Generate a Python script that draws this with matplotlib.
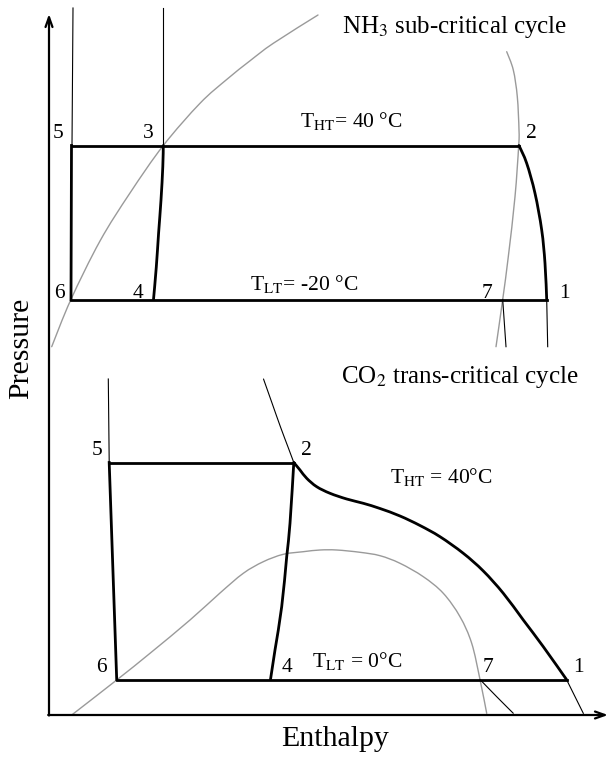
"""Schematic P-h diagram: NH3 sub-critical cycle over CO2 trans-critical cycle."""
import matplotlib
matplotlib.use('Agg')
import numpy as np
import matplotlib.pyplot as plt
from matplotlib.path import Path
from matplotlib.patches import PathPatch

plt.rcParams['font.family'] = ['Liberation Serif', 'DejaVu Serif']
plt.rcParams['mathtext.fontset'] = 'stix'

# ── Data (schematic enthalpy / pressure, in picture units, pressure grows upward) ──
# NH3 saturation dome (grey)
nh3_liq_h = [51.7, 70.7, 100, 130, 163.3, 200, 226.7, 250, 273.3, 318]
nh3_liq_p = [346.7, 300, 241, 193, 145.5, 103.3, 79.5, 60.8, 43.3, 15]
nh3_vap_h = [496, 502.7, 508.3, 515, 518.7, 519, 517.3, 513.3, 506.7]
nh3_vap_p = [346.7, 299.5, 256.7, 196.7, 145.5, 130, 96.7, 70, 51.7]

# NH3 cycle
nh3_state_h = {1: 546.7, 2: 519, 3: 163.3, 4: 153.5, 5: 71.5, 6: 71, 7: 502.7}
nh3_p_high = 145.5
nh3_p_low = 299.5
nh3_comp_h = [546.7, 545, 541.7, 535, 526.7, 519]
nh3_comp_p = [299.5, 263.3, 230, 193.3, 163.3, 145.5]
nh3_exp_h = [163.3, 162.8, 161, 158.6, 156.3, 153.5]
nh3_exp_p = [145.5, 166.7, 200, 233, 267, 299.5]
nh3_thin = [
    ([73, 72], [8, 145.5]),            # above 5
    ([163.3, 163.3], [8, 145.5]),      # above 3
    ([546.7, 547.7], [299.5, 346.7]),  # below 1
    ([502.7, 506], [299.5, 346.7]),    # below 7
]

# CO2 saturation dome (grey)
co2_dome_h = [71.7, 116.7, 150, 190, 220, 243.3, 263.3, 283.3, 303.3, 320,
              336.7, 360, 380, 400, 423.3, 443.3, 460, 471.7, 480, 486.7]
co2_dome_p = [715, 680, 653.3, 620, 593, 573.3, 561.7, 554.3, 551.7, 550,
              550, 552.3, 555.7, 563.3, 576.7, 593.3, 616.7, 643.3, 679.5, 713.3]

# CO2 cycle
co2_state_h = {1: 566.5, 2: 293.8, 4: 270.5, 5: 109.2, 6: 116.7, 7: 480}
co2_p_high = 462.5
co2_p_low = 679.5
co2_gc_h = [293.8, 300, 306.7, 316.7, 330, 346.7, 363.3, 380, 400, 420, 440,
            463.3, 483.3, 503.3, 523.3, 543.3, 566.5]
co2_gc_p = [462.5, 470, 478.3, 486.7, 493.3, 499, 503.3, 508.5, 516, 525.5,
            536.7, 553.3, 571, 593.3, 620, 646.7, 679.5]
co2_comp_h = [293.8, 290, 286.7, 281.7, 275, 270.5]
co2_comp_p = [462.5, 523.3, 556.7, 606.7, 650, 679.5]
co2_iso_h = [263.5, 272, 280.5, 288, 293.8]
co2_iso_p = [379, 403, 427, 447, 462.5]
co2_thin = [
    ([108.3, 109.2], [379, 462.5]),      # above 5
    ([566.5, 583.3], [679.5, 713.3]),    # below 1
]
co2_out7_h = [480, 496.7, 513.3]
co2_out7_p = [679.5, 696.7, 713.3]

# Labels: (text, h, p)
nh3_labels = [("5", 58.3, 138.5), ("3", 148.3, 138.5), ("2", 531.7, 138.5),
              ("6", 59.3, 297.5), ("4", 137.7, 297.5), ("7", 486.7, 297.5),
              ("1", 564, 297.5)]
co2_labels = [("5", 96.7, 455), ("2", 306.7, 455), ("6", 101.7, 672),
              ("4", 286.7, 672), ("7", 487.7, 672), ("1", 578.3, 672)]

THICK = 2.0
THIN = 0.8
GREY = '#9a9a9a'


def smooth(ax, xs, ys, **kw):
    """Draw a smooth curve through the given points (Catmull-Rom as Bezier)."""
    pts = np.column_stack([xs, ys]).astype(float)
    verts = [pts[0]]
    codes = [Path.MOVETO]
    n = len(pts)
    for i in range(n - 1):
        p0 = pts[i - 1] if i > 0 else pts[i]
        p1, p2 = pts[i], pts[i + 1]
        p3 = pts[i + 2] if i + 2 < n else pts[i + 1]
        verts += [p1 + (p2 - p0) / 6, p2 - (p3 - p1) / 6, p2]
        codes += [Path.CURVE4] * 3
    ax.add_patch(PathPatch(Path(verts, codes), fill=False,
                           capstyle='round', joinstyle='round', **kw))


fig = plt.figure(figsize=(6.09, 7.62), dpi=100)
ax = fig.add_axes([0, 0, 1, 1])
ax.set_xlim(0, 609)
ax.set_ylim(762, 0)
ax.axis('off')

# ── Axes arrows ──────────────────────────────────────────────────────────────
ax.annotate('', xy=(49, 14), xytext=(49, 715.5),
            arrowprops=dict(arrowstyle='->,head_length=0.7,head_width=0.25',
                            lw=1.6, color='black', shrinkA=0, shrinkB=0))
ax.annotate('', xy=(608, 715), xytext=(48.2, 715),
            arrowprops=dict(arrowstyle='->,head_length=0.7,head_width=0.25',
                            lw=1.6, color='black', shrinkA=0, shrinkB=0))

# ── NH3 ──────────────────────────────────────────────────────────────────────
smooth(ax, nh3_liq_h, nh3_liq_p, color=GREY, lw=1.0)
smooth(ax, nh3_vap_h, nh3_vap_p, color=GREY, lw=1.0)
for hs, ps in nh3_thin:
    ax.plot(hs, ps, color='black', lw=THIN)
ax.plot([nh3_state_h[5], nh3_state_h[2]], [nh3_p_high, nh3_p_high],
        color='black', lw=THICK, solid_capstyle='projecting')
ax.plot([nh3_state_h[6], nh3_state_h[1]], [nh3_p_low, nh3_p_low],
        color='black', lw=THICK, solid_capstyle='projecting')
ax.plot([nh3_state_h[5], nh3_state_h[6]], [nh3_p_high, nh3_p_low],
        color='black', lw=THICK, solid_capstyle='projecting')
smooth(ax, nh3_comp_h, nh3_comp_p, color='black', lw=THICK)
smooth(ax, nh3_exp_h, nh3_exp_p, color='black', lw=THICK)

# ── CO2 ──────────────────────────────────────────────────────────────────────
smooth(ax, co2_dome_h, co2_dome_p, color=GREY, lw=1.0)
for hs, ps in co2_thin:
    ax.plot(hs, ps, color='black', lw=THIN)
smooth(ax, co2_iso_h, co2_iso_p, color='black', lw=THIN)
smooth(ax, co2_out7_h, co2_out7_p, color='black', lw=THIN)
ax.plot([co2_state_h[5], co2_state_h[2]], [co2_p_high, co2_p_high],
        color='black', lw=THICK, solid_capstyle='projecting')
ax.plot([co2_state_h[6], co2_state_h[1]], [co2_p_low, co2_p_low],
        color='black', lw=THICK, solid_capstyle='projecting')
ax.plot([co2_state_h[5], co2_state_h[6]], [co2_p_high, co2_p_low],
        color='black', lw=THICK, solid_capstyle='projecting')
smooth(ax, co2_gc_h, co2_gc_p, color='black', lw=THICK)
smooth(ax, co2_comp_h, co2_comp_p, color='black', lw=THICK)

# ── Text ─────────────────────────────────────────────────────────────────────
for txt, h, p in nh3_labels + co2_labels:
    ax.text(h, p, txt, ha='center', va='baseline', fontsize=15.5)

ax.text(341.7, 33.3, r'NH$_3$ sub-critical cycle', ha='left', va='baseline',
        fontsize=18)
ax.text(340.7, 383.3, r'CO$_2$ trans-critical cycle', ha='left', va='baseline',
        fontsize=18)
ax.text(300, 126.7, r'T$_{\mathrm{HT}}$= 40 °C', ha='left', va='baseline',
        fontsize=15.5)
ax.text(250, 290, r'T$_{\mathrm{LT}}$= -20 °C', ha='left', va='baseline',
        fontsize=15.5)
ax.text(390, 483.3, r'T$_{\mathrm{HT}}$ = 40°C', ha='left', va='baseline',
        fontsize=15.5)
ax.text(311.7, 667, r'T$_{\mathrm{LT}}$ = 0°C', ha='left', va='baseline',
        fontsize=15.5)

ax.text(21.5, 348, 'Pressure', rotation=90, ha='center', va='center',
        fontsize=21.5)
ax.text(335, 745.7, 'Enthalpy', ha='center', va='baseline', fontsize=21.5)

fig.savefig('out.png', dpi=100, facecolor='white')
